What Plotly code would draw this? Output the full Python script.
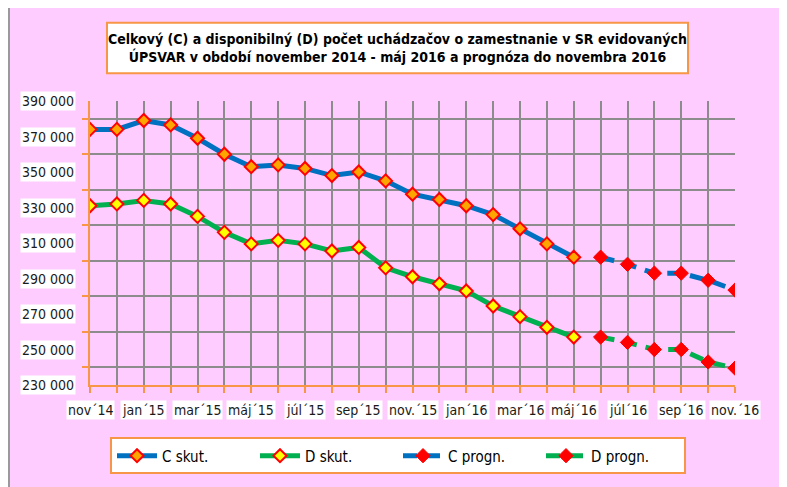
import plotly.graph_objects as go

# mesiace nov 2014 .. nov 2016
months = ["nov´14", "dec´14", "jan´15", "feb´15", "mar´15", "apr´15", "máj´15", "jún´15",
          "júl´15", "aug´15", "sep´15", "okt´15", "nov.´15", "dec´15", "jan´16", "feb´16",
          "mar´16", "apr´16", "máj´16", "jún´16", "júl´16", "aug´16", "sep´16", "okt´16", "nov.´16"]

c_skut = [374000, 374000, 379000, 376500, 369000, 360000, 353000, 354000, 352000, 348000,
          350000, 345000, 337500, 334500, 331000, 326000, 318000, 309500, 302000]
d_skut = [331000, 332000, 334000, 332000, 325000, 316000, 309500, 311500, 309500, 305500,
          307500, 296000, 291000, 287000, 283000, 274500, 268500, 262500, 257000]
c_progn = [302000, 298000, 293000, 293000, 289000, 283500]
d_progn = [257000, 254000, 250000, 250000, 243000, 239500]

y_ticks = [390000, 370000, 350000, 330000, 310000, 290000, 270000, 250000, 230000]

BLUE = "#0070C0"
GREEN = "#00B050"
ORANGE = "#F79646"
PINK = "#FFCCFF"
FONT = "DejaVu Sans Condensed, Liberation Sans Narrow, Arial Narrow, Liberation Sans, Arial"

# stranka ma okraj 8px, vsetko v suradniciach obrazovky - 8
OFF = 8
L, R, T, B = 90 - OFF, 735 - OFF, 101 - OFF, 388 - OFF
W, H = 787 - OFF, 487 - OFF


def px(x):
    return (x - OFF - L) / (R - L)


def py(y):
    return (B - (y - OFF)) / (B - T)


x_skut = list(range(len(c_skut)))
x_progn = list(range(len(c_skut), len(months)))

fig = go.Figure()
fig.add_trace(go.Scatter(x=x_skut, y=c_skut, name="C skut.", mode="lines+markers",
                         line=dict(color=BLUE, width=5),
                         marker=dict(symbol="diamond", size=10, color="#FFA500",
                                     line=dict(color="red", width=2))))
fig.add_trace(go.Scatter(x=x_skut, y=d_skut, name="D skut.", mode="lines+markers",
                         line=dict(color=GREEN, width=5),
                         marker=dict(symbol="diamond", size=10, color="yellow",
                                     line=dict(color="red", width=2))))
fig.add_trace(go.Scatter(x=x_progn, y=c_progn, name="C progn.", mode="lines+markers",
                         line=dict(color=BLUE, width=5, dash="14px,9px"),
                         marker=dict(symbol="diamond", size=11, color="red",
                                     line=dict(color="red", width=1))))
fig.add_trace(go.Scatter(x=x_progn, y=d_progn, name="D progn.", mode="lines+markers",
                         line=dict(color=GREEN, width=5, dash="14px,9px"),
                         marker=dict(symbol="diamond", size=11, color="red",
                                     line=dict(color="red", width=1))))

# ruzove pozadie s ramcekom
fig.add_shape(type="rect", xref="paper", yref="paper",
              x0=px(9), x1=px(783), y0=py(500), y1=py(6),
              fillcolor=PINK, line=dict(color="#9A9A9A", width=2), layer="below")
# ramcek nadpisu
fig.add_shape(type="rect", xref="paper", yref="paper",
              x0=px(107), x1=px(688), y0=py(73), y1=py(22),
              fillcolor="white", line=dict(color=ORANGE, width=2), layer="below")

fig.add_annotation(xref="paper", yref="paper", x=px(397.5), y=py(47.5),
                   text="<b>Celkový (C) a disponibilný (D) počet uchádzačov o zamestnanie v SR evidovaných"
                        "<br>ÚPSVAR v období november 2014 - máj 2016 a prognóza do novembra 2016</b>",
                   showarrow=False, font=dict(family=FONT, size=14, color="black"),
                   xanchor="center", yanchor="middle")

# popisky osi s bielym pozadim
for v in y_ticks:
    fig.add_annotation(xref="paper", yref="y", x=px(76), y=v,
                       text=f"{v:,}".replace(",", " "), showarrow=False,
                       xanchor="right", yanchor="middle", bgcolor="white",
                       font=dict(family=FONT, size=14, color="#1a1a1a"))
for i in range(0, len(months), 2):
    fig.add_annotation(xref="x", yref="paper", x=i, y=py(413),
                       text=months[i], showarrow=False,
                       xanchor="center", yanchor="middle", bgcolor="white",
                       font=dict(family=FONT, size=14, color="#1a1a1a"))

fig.update_layout(
    width=W, height=H,
    margin=dict(l=L, r=W - R, t=T, b=H - B),
    paper_bgcolor="white", plot_bgcolor="white",
    showlegend=True,
    legend=dict(orientation="h", x=px(398), xanchor="center", y=py(441), yanchor="top",
                bgcolor="white", bordercolor=ORANGE, borderwidth=2,
                font=dict(family=FONT, size=15, color="black"),
                entrywidth=88, itemwidth=40),
)
fig.update_xaxes(range=[0, len(months) - 1], dtick=1, showgrid=True, gridcolor="#8C8C8C",
                 gridwidth=2, showline=True, linecolor=ORANGE, linewidth=2,
                 ticks="outside", tickcolor=ORANGE, ticklen=6, tickwidth=1.5,
                 showticklabels=False, zeroline=False)
fig.update_yaxes(range=[230000, 390000], dtick=20000, showgrid=True, gridcolor="#8C8C8C",
                 gridwidth=2, showline=True, linecolor=ORANGE, linewidth=2,
                 ticks="outside", tickcolor=ORANGE, ticklen=6, tickwidth=1.5,
                 showticklabels=False, zeroline=False)

fig.write_html("out.html")
